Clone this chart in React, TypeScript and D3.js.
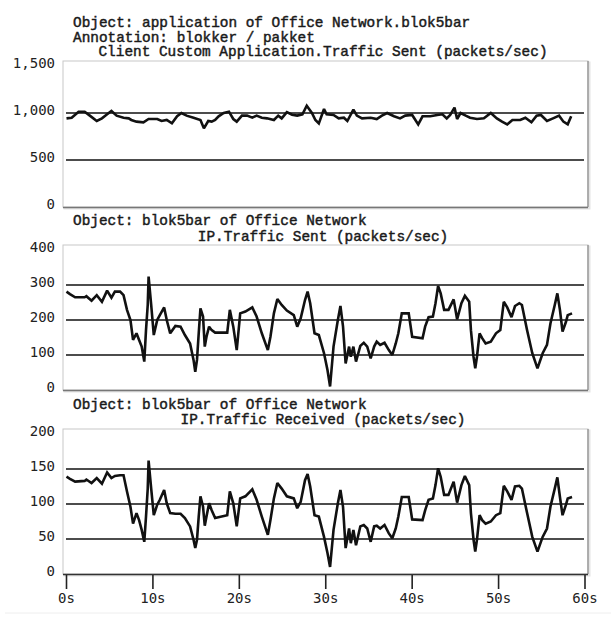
import React, { useRef, useEffect } from "react";
import * as d3 from "d3";

// Client Custom Application.Traffic Sent (packets/sec)
const appTimes = [
  0.0, 0.6, 1.4, 2.1, 2.7, 3.5, 4.1, 4.7, 5.2, 5.8, 6.6, 7.2, 7.5, 8.1, 8.9, 9.5, 10.5, 11.0, 11.6, 12.2,
  12.8, 13.3, 13.9, 14.7, 15.5, 15.9, 16.4, 16.8, 17.2, 17.6, 18.2, 18.8, 19.3, 19.7, 20.3, 20.9, 21.5, 22.0,
  22.6, 23.2, 24.0, 24.5, 24.9, 25.5, 26.1, 26.7, 27.3, 27.8, 28.4, 28.8, 29.2, 29.8, 30.1, 30.9, 31.5, 32.1,
  32.5, 33.2, 33.6, 34.2, 35.2, 35.9, 36.5, 37.1, 37.9, 38.6, 39.2, 40.0, 40.7, 41.2, 42.1, 42.9, 43.5, 44.0,
  44.4, 44.9, 45.2, 45.6, 46.2, 46.7, 47.5, 48.3, 49.1, 49.8, 50.4, 51.0, 51.6, 52.5, 53.1, 53.8, 54.4, 54.9,
  55.6, 56.3, 57.0, 57.5, 58.0, 58.4,
];
const appValues = [
  943, 950, 1014, 1014, 972, 915, 943, 986, 1021, 972, 950, 943, 926, 908, 901, 936, 936, 915, 926, 890,
  965, 1000, 972, 950, 926, 837, 915, 908, 926, 965, 1000, 1014, 936, 908, 972, 972, 950, 972, 950, 943,
  926, 972, 943, 1010, 982, 972, 986, 1077, 1000, 926, 890, 1043, 986, 979, 943, 950, 915, 1036, 972, 943,
  950, 936, 972, 1000, 965, 943, 972, 979, 879, 965, 965, 979, 986, 943, 979, 1057, 936, 1000, 972, 950,
  936, 943, 1000, 943, 908, 879, 926, 926, 950, 901, 972, 979, 915, 943, 972, 908, 879, 965,
];

// IP.Traffic Sent / Received (packets/sec), same sample times
const ipTimes = [
  0.0, 0.4, 1.0, 2.1, 2.3, 2.9, 3.5, 4.1, 4.7, 5.2, 5.6, 6.2, 6.6, 7.0, 7.4, 7.7, 8.1, 8.4, 8.7, 9.0,
  9.2, 9.4, 9.5, 9.8, 10.1, 10.5, 10.8, 11.3, 11.6, 12.0, 12.6, 13.2, 13.7, 14.3, 14.7, 14.9, 15.1, 15.3, 15.5, 15.8,
  16.0, 16.2, 16.5, 16.8, 17.2, 18.6, 18.9, 19.3, 19.7, 20.1, 20.7, 21.5, 22.0, 22.6, 23.3, 23.6, 24.0, 24.4, 24.9, 25.5,
  26.3, 26.7, 27.1, 27.6, 27.9, 28.2, 28.7, 29.2, 29.8, 30.2, 30.5,
  30.9, 31.4, 31.7, 32.0, 32.3, 32.7, 32.9, 33.2, 33.5, 34.0, 34.4, 34.8, 35.2, 35.6, 35.9, 36.3, 36.8, 37.3, 37.7, 38.1,
  38.4, 38.8, 39.6, 40.0, 41.2, 41.5, 41.9, 42.4, 42.7, 43.0, 43.3, 43.7, 44.2, 44.8, 45.2, 45.7, 46.1, 46.6, 46.8, 47.1,
  47.3, 47.5, 47.8, 48.1, 48.5, 49.1, 49.7, 50.2, 50.6, 51.0, 51.5, 51.9, 52.4, 52.7, 53.3, 53.9, 54.5, 55.1, 55.6, 56.0,
  56.5, 56.8, 57.1, 57.4, 57.8, 58.0, 58.5,
];
const ipSentValues = [
  281, 274, 265, 265, 268, 255, 271, 252, 284, 264, 281, 281, 271, 229, 200, 143, 162, 143, 124, 81,
  171, 243, 324, 243, 157, 200, 214, 236, 200, 162, 183, 181, 157, 133, 86, 52, 86, 162, 233, 210,
  124, 152, 181, 171, 164, 164, 229, 181, 114, 219, 224, 236, 210, 162, 114, 152, 219, 260, 243, 227,
  214, 181, 205, 257, 281, 248, 162, 157, 105, 57, 10,
  124, 200, 240, 181, 76, 124, 95, 124, 81, 126, 135, 124, 90, 124, 138, 129, 135, 114, 100, 133,
  162, 219, 219, 152, 148, 181, 208, 210, 248, 297, 276, 229, 229, 259, 202, 248, 269, 252, 171, 95,
  62, 95, 162, 148, 133, 138, 162, 171, 252, 236, 208, 240, 248, 243, 171, 105, 62, 105, 129, 190,
  243, 276, 229, 167, 195, 214, 219,
];
const ipReceivedValues = [
  139, 136, 132, 133, 135, 130, 137, 129, 145, 137, 140, 141, 141, 118, 96, 72, 87, 77, 63, 46,
  82, 122, 162, 122, 84, 99, 106, 120, 101, 87, 86, 86, 80, 68, 49, 37, 49, 82, 111, 96,
  69, 82, 101, 91, 80, 84, 118, 101, 68, 108, 111, 121, 106, 82, 56, 77, 108, 130, 122, 111,
  108, 94, 103, 134, 143, 125, 84, 82, 53, 30, 10,
  63, 101, 120, 96, 37, 65, 44, 63, 41, 68, 70, 65, 46, 68, 69, 65, 70, 58, 51, 65,
  82, 110, 110, 78, 77, 91, 106, 108, 127, 151, 139, 113, 113, 132, 102, 127, 140, 127, 87, 49,
  32, 49, 84, 77, 72, 75, 84, 87, 126, 118, 106, 125, 126, 122, 87, 53, 32, 53, 65, 96,
  122, 138, 110, 84, 99, 108, 110,
];

const timeTicks = [0, 10, 20, 30, 40, 50, 60];
const appTicks = [0, 500, 1000, 1500];
const sentTicks = [0, 100, 200, 300, 400];
const receivedTicks = [0, 50, 100, 150, 200];

const appHeader = ["Object: application of Office Network.blok5bar", "Annotation: blokker / pakket"];
const appTitle = "Client Custom Application.Traffic Sent (packets/sec)";
const ipHeader = ["Object: blok5bar of Office Network"];
const sentTitle = "IP.Traffic Sent (packets/sec)";
const receivedTitle = "IP.Traffic Received (packets/sec)";

export default function App() {
  const ref = useRef<SVGSVGElement>(null);

  useEffect(() => {
    const svg = d3.select(ref.current);
    svg.selectAll("*").remove();

    const titleFont = "'Liberation Mono', 'Courier New', monospace";
    const tickFont = "'DejaVu Sans Mono', monospace";
    const boxLeft = 63;
    const boxRight = 588;

    const x = d3.scaleLinear().domain([0, 60]).range([66.5, 585]);

    const panels = [
      { times: appTimes, values: appValues, ticks: appTicks, top: 66, bottom: 207, header: appHeader, headerY: 23, title: appTitle, titleY: 52 },
      { times: ipTimes, values: ipSentValues, ticks: sentTicks, top: 250, bottom: 390, header: ipHeader, headerY: 221, title: sentTitle, titleY: 237 },
      { times: ipTimes, values: ipReceivedValues, ticks: receivedTicks, top: 434, bottom: 574, header: ipHeader, headerY: 405, title: receivedTitle, titleY: 420 },
    ];

    const addText = (g: any, s: string, xPos: number, yPos: number, anchor: string) =>
      g.append("text")
        .attr("x", xPos)
        .attr("y", yPos)
        .attr("text-anchor", anchor)
        .attr("dominant-baseline", "central")
        .style("font-family", titleFont)
        .style("font-size", "14.4px")
        .style("fill", "#1a1a1a")
        .style("stroke", "#1a1a1a")
        .style("stroke-width", 0.45)
        .text(s);

    panels.forEach((p, i) => {
      const max = p.ticks[p.ticks.length - 1];
      const y = d3.scaleLinear().domain([0, max]).range([p.bottom, p.top]);
      const g = svg.append("g");
      const boxTop = p.top - 5;

      // frame
      g.append("rect")
        .attr("x", boxLeft + 1.5)
        .attr("y", boxTop + 1.5)
        .attr("width", boxRight - boxLeft)
        .attr("height", p.bottom - boxTop)
        .style("fill", "none")
        .style("stroke", "#e4e4e4")
        .style("stroke-width", 2);
      g.append("rect")
        .attr("x", boxLeft)
        .attr("y", boxTop)
        .attr("width", boxRight - boxLeft)
        .attr("height", p.bottom - boxTop)
        .style("fill", "#fff")
        .style("stroke", "#c8c8c8")
        .style("stroke-width", 1);
      g.append("line")
        .attr("x1", boxRight).attr("x2", boxRight)
        .attr("y1", boxTop).attr("y2", p.bottom)
        .style("stroke", "#8a8a8a")
        .style("stroke-width", 1.2);
      g.append("line")
        .attr("x1", boxLeft).attr("x2", boxRight)
        .attr("y1", p.bottom + 0.5).attr("y2", p.bottom + 0.5)
        .style("stroke", i === 2 ? "#333" : "#777")
        .style("stroke-width", i === 2 ? 1.6 : 1.3);

      // gridlines at interior ticks
      g.selectAll(".grid")
        .data(p.ticks.slice(1, -1))
        .enter()
        .append("line")
        .attr("x1", 66)
        .attr("x2", 584)
        .attr("y1", (d) => y(d))
        .attr("y2", (d) => y(d))
        .style("stroke", "#111")
        .style("stroke-width", 1.6);

      // y tick labels
      g.selectAll(".ylab")
        .data(p.ticks)
        .enter()
        .append("text")
        .attr("x", 55)
        .attr("y", (d) => y(d) - 3.5)
        .attr("text-anchor", "end")
        .attr("dominant-baseline", "central")
        .style("font-family", tickFont)
        .style("font-size", "14px")
        .style("fill", "#222")
        .text((d) => d3.format(",")(d));

      // header lines
      p.header.forEach((h, k) => addText(g, h, 73, p.headerY + k * 14.5, "start"));
      addText(g, p.title, 323, p.titleY, "middle");

      // series
      const line = d3
        .line<number>()
        .x((d, k) => x(p.times[k]))
        .y((d) => y(d));
      g.append("path")
        .datum(p.values)
        .attr("d", line)
        .style("fill", "none")
        .style("stroke", "#111")
        .style("stroke-width", 2.6)
        .style("stroke-linejoin", "miter")
        .style("stroke-miterlimit", 2);
    });

    // time axis under the last panel
    const axisY = 575;
    const ax = svg.append("g");
    ax.selectAll(".tick")
      .data(timeTicks)
      .enter()
      .append("line")
      .attr("x1", (d) => x(d))
      .attr("x2", (d) => x(d))
      .attr("y1", axisY)
      .attr("y2", axisY + 14)
      .style("stroke", "#222")
      .style("stroke-width", 1.6);
    ax.selectAll(".xlab")
      .data(timeTicks)
      .enter()
      .append("text")
      .attr("x", (d) => x(d))
      .attr("y", 598)
      .attr("text-anchor", "middle")
      .attr("dominant-baseline", "central")
      .style("font-family", tickFont)
      .style("font-size", "14px")
      .style("fill", "#222")
      .text((d) => d + "s");

    svg.append("line")
      .attr("x1", 5).attr("x2", 611)
      .attr("y1", 613).attr("y2", 613)
      .style("stroke", "#eee")
      .style("stroke-width", 1);
  }, []);

  return (
    <svg
      ref={ref}
      width={611}
      height={617}
      style={{ position: "absolute", left: 0, top: 0, background: "#fff" }}
    />
  );
}
